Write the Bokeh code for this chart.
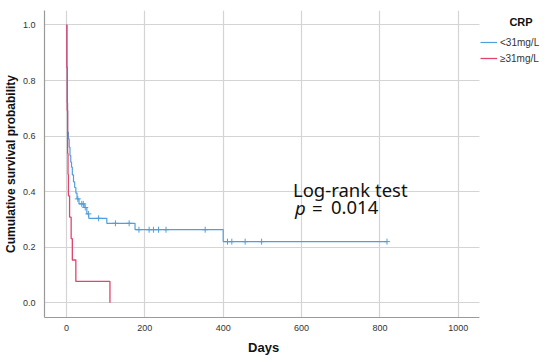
import numpy as np
from bokeh.plotting import figure
from bokeh.models import (Range1d, FixedTicker, PrintfTickFormatter, Label, Legend, LegendItem,
                          BoxAnnotation)
from bokeh.embed import file_html
from bokeh.resources import INLINE

# ---- data ----
blue_t = [0, 1, 2, 3, 5, 7, 9, 11, 13, 15, 18, 21, 24, 27, 32, 45, 52, 57, 103, 175, 400, 818]
blue_s = [1.0, 0.85, 0.72, 0.614, 0.59, 0.56, 0.53, 0.506, 0.488, 0.46, 0.435, 0.415, 0.395, 0.374,
          0.356, 0.343, 0.32, 0.304, 0.286, 0.263, 0.22, 0.22]
blue_cens = [29, 39, 43, 48, 56, 82, 125, 160, 185, 211, 222, 235, 254, 354, 411, 422, 456, 498, 818]

red_t = [0, 1, 2, 3, 4, 5, 8, 12, 15, 24, 111]
red_s = [1.0, 0.846, 0.692, 0.538, 0.462, 0.385, 0.308, 0.231, 0.154, 0.077, 0.0]

x_ticks = [0, 200, 400, 600, 800, 1000]
y_ticks = [0.0, 0.2, 0.4, 0.6, 0.8, 1.0]
labels = ["<31mg/L", "\u226531mg/L"]
legend_title = "CRP"
BLUE = "#4f9fde"
RED = "#e0446f"

X0, X1 = -56, 1054          # plotted x extent (axis)
Y0, Y1 = -0.053, 1.052
AXIS_W, FRAME_W, FRAME_H = 435, 496, 307
X_END = X0 + (X1 - X0) * FRAME_W / AXIS_W   # frame extended to host the legend


def surv_at(times, surv, t):
    times = np.asarray(times)
    surv = np.asarray(surv)
    idx = np.searchsorted(times, t, side="right") - 1
    return surv[idx]


p = figure(frame_width=FRAME_W, frame_height=FRAME_H, output_backend="svg", toolbar_location=None,
           x_range=Range1d(X0, X_END), y_range=Range1d(Y0, Y1),
           min_border_left=38, min_border_right=0, min_border_top=10, min_border_bottom=37)
p.outline_line_color = None
p.background_fill_color = "white"

rb = p.step(blue_t, blue_s, mode="after", line_color=BLUE, line_width=1.2)
p.scatter(blue_cens, surv_at(blue_t, blue_s, blue_cens), marker="cross", size=6,
          line_color=BLUE, line_width=1)
rr = p.step(red_t, red_s, mode="after", line_color=RED, line_width=1.3)

for ax in (p.xaxis[0], p.yaxis[0]):
    ax.axis_line_color = "#9a9a9a"
    ax.axis_line_width = 1.2
    ax.major_tick_line_color = None
    ax.minor_tick_line_color = None
    ax.major_tick_out = 0
    ax.major_tick_in = 0
    ax.minor_tick_out = 0
    ax.minor_tick_in = 0
    ax.major_label_text_font = "Liberation Sans"
    ax.major_label_text_font_size = "9px"
    ax.major_label_text_color = "#333333"
    ax.axis_label_text_font = "Liberation Sans"
    ax.axis_label_text_font_style = "bold"
    ax.axis_label_text_color = "#111111"

p.xaxis.bounds = (X0, X1)
p.xaxis.ticker = FixedTicker(ticks=x_ticks)
p.yaxis.ticker = FixedTicker(ticks=y_ticks)
p.yaxis.formatter = PrintfTickFormatter(format="%.1f")
# trailing no-break spaces shift the centred label onto the axis part of the frame
p.xaxis.axis_label = "Days" + "\u00a0" * 16
p.yaxis.axis_label = "Cumulative survival probability"
p.xaxis.axis_label_text_font_size = "13px"
p.yaxis.axis_label_text_font_size = "12px"
p.xaxis.major_label_standoff = 7
p.yaxis.major_label_standoff = 9
p.xaxis.axis_label_standoff = 6
p.yaxis.axis_label_standoff = 2

p.xgrid.grid_line_color = "#d4d4d4"
p.ygrid.grid_line_color = "#d4d4d4"
p.xgrid.grid_line_width = 1.2
p.ygrid.grid_line_width = 1.2

# blank the legend area (beyond the x axis extent)
p.add_layout(BoxAnnotation(left=X1, fill_color="white", fill_alpha=1.0, line_color=None,
                           level="annotation"))

# annotation
FS = "18.5px"
p.add_layout(Label(x=578, y=0.408, text="Log-rank test", text_font="Noto Sans",
                   text_font_size=FS, text_color="#111111", text_baseline="alphabetic"))
p.add_layout(Label(x=578, y=0.342, x_offset=2, text="p", text_font="Noto Sans",
                   text_font_style="italic",
                   text_font_size=FS, text_color="#111111", text_baseline="alphabetic"))
p.add_layout(Label(x=578, y=0.342, x_offset=19, text="=", text_font="Noto Sans",
                   text_font_size=FS, text_color="#111111", text_baseline="alphabetic"))
p.add_layout(Label(x=578, y=0.342, x_offset=38, text="0.014", text_font="Noto Sans",
                   text_font_size=FS, text_color="#111111", text_baseline="alphabetic"))

# legend
p.add_layout(Label(x=1160, y=1.009, text=legend_title, text_font="Liberation Sans",
                   text_font_style="bold", text_font_size="11px", text_align="center",
                   text_baseline="middle", text_color="#111111"))
legend = Legend(items=[LegendItem(label=labels[0], renderers=[rb]),
                       LegendItem(label=labels[1], renderers=[rr])],
                location=(436, 252), orientation="vertical",
                label_text_font="Liberation Sans", label_text_font_size="10px",
                label_text_color="#333333", glyph_width=17, glyph_height=14,
                label_standoff=3, spacing=2, padding=2, margin=0,
                background_fill_alpha=0, border_line_color=None)
p.add_layout(legend, "center")

open("out.html", "w").write(file_html(p, INLINE))
